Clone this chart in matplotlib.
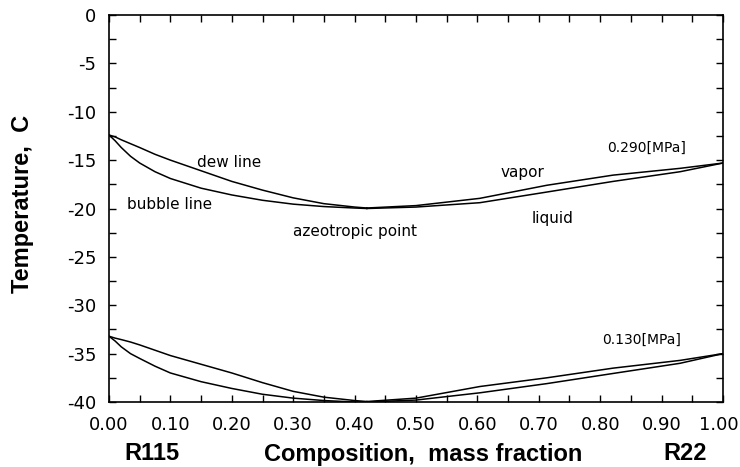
import matplotlib
matplotlib.use("Agg")
import matplotlib.pyplot as plt
from matplotlib.ticker import MultipleLocator

plt.rcParams['font.family'] = ['DejaVu Sans']
plt.rcParams['axes.unicode_minus'] = False

# composition (mass fraction of R22), R115-rich side up to the azeotrope
x_left = [0.00, 0.01, 0.02, 0.035, 0.05, 0.075, 0.10, 0.15, 0.20, 0.25, 0.30, 0.35, 0.40, 0.42]
# azeotrope to pure R22
x_right = [0.42, 0.50, 0.604, 0.713, 0.821, 0.930, 1.00]

# 0.290 MPa
dew_290_left = [-12.4, -12.6, -12.9, -13.3, -13.7, -14.4, -15.0, -16.1, -17.2, -18.1, -18.9, -19.5, -19.85, -19.95]
bub_290_left = [-12.4, -13.0, -13.7, -14.6, -15.3, -16.2, -16.9, -17.9, -18.6, -19.15, -19.55, -19.8, -19.95, -20.0]
vap_290_right = [-19.95, -19.7, -18.95, -17.6, -16.55, -15.85, -15.3]
liq_290_right = [-20.0, -19.85, -19.4, -18.3, -17.2, -16.2, -15.3]

# 0.130 MPa
dew_130_left = [-33.2, -33.4, -33.55, -33.8, -34.1, -34.65, -35.2, -36.1, -37.0, -38.0, -38.9, -39.5, -39.85, -39.95]
bub_130_left = [-33.2, -33.7, -34.3, -35.0, -35.5, -36.3, -37.0, -37.9, -38.6, -39.2, -39.6, -39.85, -40.0, -40.0]
vap_130_right = [-39.95, -39.6, -38.4, -37.5, -36.5, -35.7, -35.0]
liq_130_right = [-40.0, -39.8, -39.05, -38.1, -37.05, -36.0, -35.0]

x_ticks = [0.0, 0.1, 0.2, 0.3, 0.4, 0.5, 0.6, 0.7, 0.8, 0.9, 1.0]
x_tick_labels = ["0.00", "0.10", "0.20", "0.30", "0.40", "0.50",
                 "0.60", "0.70", "0.80", "0.90", "1.00"]
y_ticks = [0, -5, -10, -15, -20, -25, -30, -35, -40]

fig = plt.figure(figsize=(7.40, 4.67), dpi=100)
ax = fig.add_axes([109 / 740, 1 - 402 / 467, (723 - 109) / 740, (402 - 15) / 467])

lw = 1.1
for xs, ys in [(x_left, dew_290_left), (x_left, bub_290_left),
               (x_right, vap_290_right), (x_right, liq_290_right),
               (x_left, dew_130_left), (x_left, bub_130_left),
               (x_right, vap_130_right), (x_right, liq_130_right)]:
    ax.plot(xs, ys, color='black', lw=lw)

ax.set_xlim(0, 1)
ax.set_ylim(-40, 0)
ax.set_xticks(x_ticks)
# the last label sits at the figure edge; it is drawn separately, nudged inward
ax.set_xticklabels(x_tick_labels[:-1] + [""])
ax.set_yticks(y_ticks)
ax.xaxis.set_minor_locator(MultipleLocator(0.05))
ax.yaxis.set_minor_locator(MultipleLocator(2.5))
xpad = 10
ax.tick_params(which='both', direction='in', top=True, right=True,
               labelsize=13, width=1, length=5, colors='black')
ax.tick_params(axis='x', pad=xpad)
ax.tick_params(axis='y', pad=9)
for s in ax.spines.values():
    s.set_linewidth(1.2)

ax.annotate(x_tick_labels[-1], xy=(x_ticks[-1], 0), xycoords=('data', 'axes fraction'),
            xytext=(-3, -xpad), textcoords='offset points',
            ha='center', va='top', fontsize=13, annotation_clip=False)

fs = 11
ax.text(0.195, -15.2, "dew line", fontsize=fs, ha='center', va='center')
ax.text(0.03, -19.6, "bubble line", fontsize=fs, ha='left', va='center')
ax.text(0.40, -22.4, "azeotropic point", fontsize=fs, ha='center', va='center')
ax.text(0.674, -16.3, "vapor", fontsize=fs, ha='center', va='center')
ax.text(0.722, -21.0, "liquid", fontsize=fs, ha='center', va='center')
ax.text(0.876, -13.7, "0.290[MPa]", fontsize=10, ha='center', va='center')
ax.text(0.868, -33.6, "0.130[MPa]", fontsize=10, ha='center', va='center')

bold = dict(fontsize=17, fontweight='bold', family=['Liberation Sans', 'DejaVu Sans'],
            va='center')
fig.text(152 / 740, 1 - 454 / 467, "R115", ha='center', **bold)
fig.text(423 / 740, 1 - 454 / 467, "Composition,  mass fraction", ha='center', **bold)
fig.text(685 / 740, 1 - 454 / 467, "R22", ha='center', **bold)
fig.text(23 / 740, 1 - 204 / 467, "Temperature,  C", ha='center', rotation=90, **bold)

fig.savefig("out.png", dpi=100)
